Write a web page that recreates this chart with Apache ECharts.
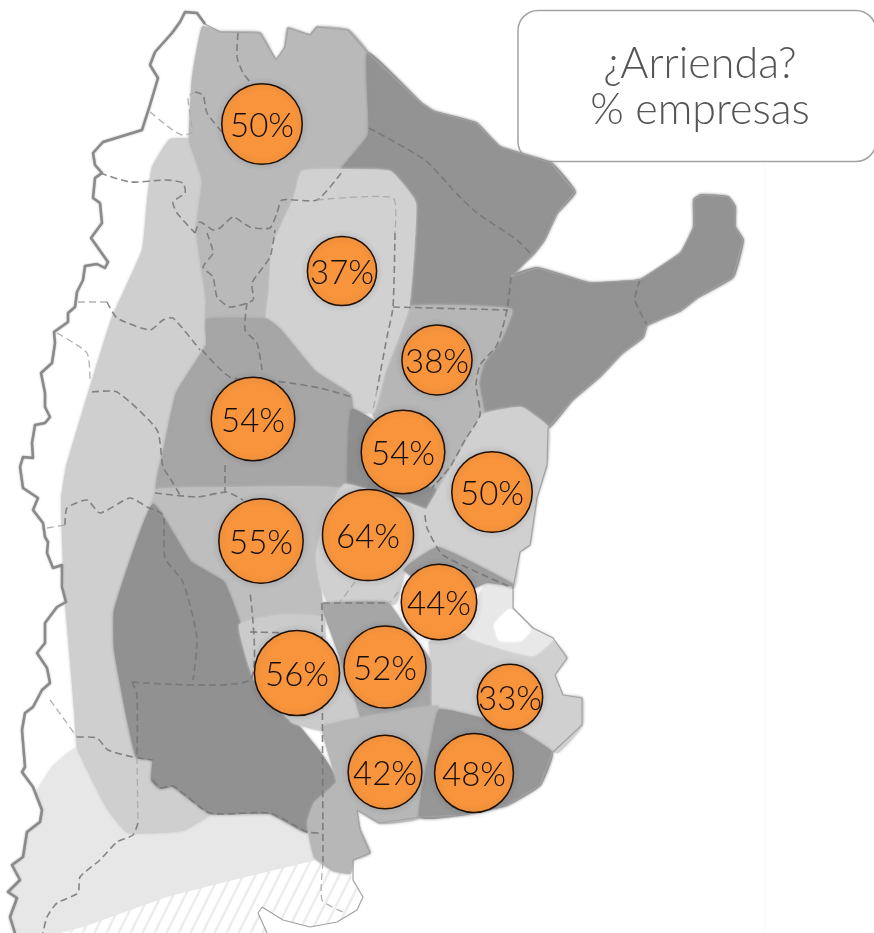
<!DOCTYPE html>
<html>
<head>
<meta charset="utf-8">
<style>html,body{margin:0;padding:0;background:#fff}#c{width:874px;height:933px}</style>
<script src="https://cdn.jsdelivr.net/npm/echarts@6/dist/echarts.min.js"></script>
</head>
<body>
<div id="c"></div>
<script>
// ---- Bubble data: region share of firms that lease, placed in map units
const regionValues = [50, 37, 38, 54, 54, 50, 64, 55, 44, 56, 52, 33, 42, 48];
const bubbleMapX   = [262, 342, 437, 253, 403, 492, 368, 261, 439, 297, 385, 510, 385, 474];
const bubbleMapY   = [124, 271, 360, 419, 452, 492, 535, 541, 602, 673, 667, 697, 772, 773];
const titleLines = ['¿Arrienda?', '% empresas'];

// ---- Map geography in map units
const westBorder = [[205,24],[197,13],[185,12],[180,22],[172,33],[155,52],[150,65],[158,78],[150,105],[142,130],[103,142],[93,153],[95,165],[102,173],[95,178],[93,198],[100,203],[102,223],[91,238],[108,262],[105,268],[97,264],[85,266],[83,280],[77,292],[75,307],[68,313],[68,322],[54,332],[55,343],[52,363],[41,373],[45,393],[45,407],[50,417],[45,423],[35,425],[32,443],[33,458],[23,457],[20,467],[23,488],[38,498],[33,510],[43,523],[45,537],[48,542],[47,553],[53,568],[62,565],[62,587],[66,602],[57,607],[45,623],[45,643],[37,653],[47,668],[50,683],[42,690],[33,707],[25,713],[22,730],[25,767],[22,772],[33,787],[42,810],[40,822],[27,832],[23,857],[12,865],[20,880],[8,892],[17,898],[10,917],[15,933]];
const southBand = [[37,793],[53,767],[78,748],[107,807],[128,832],[183,830],[210,813],[270,813],[307,832],[315,857],[317,860],[233,880],[167,897],[83,927],[60,933],[15,933],[10,917],[17,898],[8,892],[20,880],[12,865],[23,857],[27,832],[40,822],[42,810]];
const hatched = [[60,933],[83,927],[167,897],[233,880],[317,860],[350,873],[353,880],[363,897],[357,910],[337,922],[310,927],[283,920],[262,907],[258,913],[267,933]];
const andes = [[170,140],[190,140],[203,180],[197,230],[207,300],[207,345],[177,393],[163,465],[150,510],[115,610],[115,660],[130,730],[137,757],[153,760],[152,780],[160,788],[173,786],[210,813],[183,830],[128,832],[107,807],[78,748],[75,710],[70,650],[65,590],[62,500],[67,467],[97,367],[113,317],[143,250],[148,200],[153,167]];
const noa = [[203,27],[220,32],[260,33],[276,60],[285,47],[288,28],[310,35],[317,27],[348,30],[368,53],[369,135],[342,172],[302,173],[295,197],[273,247],[267,320],[207,320],[207,300],[197,230],[203,180],[190,140],[193,77]];
const nea = [[368,53],[421,103],[435,112],[476,123],[500,147],[551,163],[575,192],[557,213],[544,240],[534,253],[511,277],[511,310],[408,308],[415,207],[391,177],[367,170],[340,172],[369,135]];
const mesopotamia = [[511,277],[537,268],[589,283],[640,280],[681,253],[694,227],[694,200],[701,195],[728,197],[735,207],[735,227],[743,240],[733,277],[698,297],[681,310],[647,325],[643,337],[622,353],[599,377],[572,400],[548,428],[521,408],[483,415],[478,383],[483,363],[500,340],[511,310]];
const santaFe = [[408,308],[511,310],[500,340],[483,363],[478,383],[483,415],[462,450],[435,495],[425,510],[395,480],[378,425],[373,412],[385,370]];
const chaco = [[302,172],[342,170],[390,172],[415,203],[408,308],[385,370],[373,412],[352,410],[350,395],[315,372],[280,330],[267,320],[270,290],[273,247],[295,197]];
const cuyoNorth = [[207,320],[267,320],[280,330],[315,372],[350,395],[352,410],[350,490],[340,498],[233,488],[157,490],[165,447],[177,393],[207,345]];
const cordobaPatch = [[352,410],[378,425],[395,480],[435,490],[425,510],[400,497],[350,490]];
const pampaWest = [[157,490],[233,488],[345,490],[317,555],[322,617],[283,615],[240,625],[233,605],[223,582],[190,562],[153,505]];
const pampaCenter = [[345,485],[425,510],[427,528],[440,550],[405,570],[395,603],[330,605],[320,580],[317,555],[325,520]];
const patagoniaNorth = [[153,505],[190,562],[223,582],[233,605],[240,625],[250,650],[255,680],[293,720],[320,753],[337,782],[315,803],[307,832],[270,813],[210,813],[173,786],[160,788],[152,780],[153,760],[137,757],[128,720],[115,650],[115,610]];
const pampaSouth = [[240,625],[283,615],[323,618],[325,640],[345,670],[363,718],[323,730],[293,722],[255,680]];
const centerSouth = [[323,605],[387,603],[403,625],[433,665],[433,707],[363,720],[357,702],[330,628]];
const buenosAiresEast = [[430,642],[467,635],[533,655],[550,638],[567,658],[555,675],[563,695],[582,698],[582,725],[557,752],[513,728],[440,710],[433,705],[433,665]];
const riverPlate = [[467,635],[487,582],[513,590],[513,608],[533,628],[553,638],[533,655]];
const whitePatch = [[495,625],[510,610],[530,630],[520,640],[500,640]];
const entreRios = [[548,428],[521,408],[483,415],[453,467],[425,515],[438,545],[513,588],[520,552],[530,545],[537,498],[547,465]];
const riverBand = [[438,548],[513,585],[487,582],[467,590],[440,590],[405,570]];
const southEast = [[440,710],[513,728],[552,753],[540,785],[507,805],[460,815],[420,817],[432,742]];
const southCoast = [[438,707],[363,718],[323,728],[337,782],[315,803],[308,823],[315,857],[333,870],[350,873],[353,860],[370,853],[360,830],[357,810],[380,823],[420,817],[432,742]];

const regionLayers = [southBand, hatched, andes, noa, nea, mesopotamia, santaFe, chaco, cuyoNorth, cordobaPatch, pampaWest, pampaCenter, patagoniaNorth, pampaSouth, centerSouth, buenosAiresEast, riverPlate, whitePatch, entreRios, riverBand, southCoast, southEast];
const regionColors = ['#e7e7e7', 'hatch', '#cfcfcf', '#b9b9b9', '#939393', '#939393', '#b6b6b6', '#d1d1d1', '#a6a6a6', '#8f8f8f', '#bebebe', '#d0d0d0', '#919191', '#cbcbcb', '#a6a6a6', '#d0d0d0', '#e8e8e8', '#ffffff', '#d0d0d0', '#9c9c9c', '#b7b7b7', '#979797'];

const dashedBorders = [
 [[238,33],[237,57],[243,73],[251,83]],
 [[195,92],[203,95],[207,113],[222,132]],
 [[100,173],[130,182],[167,180],[183,183],[185,193],[173,202],[177,213],[195,233]],
 [[195,233],[200,222],[213,230],[220,228],[233,217],[250,227],[270,228],[277,213],[282,200],[317,200],[342,172]],
 [[395,233],[393,307],[387,337],[377,390]],
 [[393,307],[508,310]],
 [[511,277],[507,310],[497,345],[480,365],[476,385],[480,415],[465,440],[450,467],[432,488]],
 [[369,128],[425,160],[456,193],[477,213],[517,240],[532,255]],
 [[640,280],[635,300],[647,325]],
 [[207,233],[213,253],[203,267],[213,277],[217,297],[230,307],[253,300],[252,283],[270,257],[275,230]],
 [[247,303],[245,330],[257,343],[262,370]],
 [[202,350],[230,377],[283,382],[320,388],[352,397]],
 [[107,302],[117,318],[150,330],[163,320],[173,318],[200,350]],
 [[92,392],[117,392],[157,430],[163,467],[170,478],[180,495]],
 [[225,465],[225,492]],
 [[155,493],[197,497],[227,492],[243,500]],
 [[65,525],[67,508],[87,500],[100,513],[130,498],[147,507],[163,515],[165,558],[183,582],[197,638],[193,680]],
 [[132,682],[250,680],[250,592]],
 [[250,632],[293,633]],
 [[132,682],[137,695],[137,757]],
 [[138,823],[133,835],[117,842],[100,860],[80,877],[78,893],[57,903],[47,917],[43,933]],
 [[77,737],[97,738],[108,750],[133,757],[153,760]],
 [[322,603],[323,862]],
 [[323,603],[387,603]],
 [[153,780],[160,788],[173,786],[210,813],[270,813],[307,832],[322,833]],
 [[425,515],[427,528],[443,555],[513,588]]
];
const faintBorders = [
 [[150,112],[170,128],[182,135],[192,132],[188,97],[195,92]],
 [[317,200],[393,198],[395,233]],
 [[377,390],[373,410]],
 [[78,302],[107,302]],
 [[57,333],[87,353],[90,380]],
 [[47,528],[65,525]],
 [[50,700],[77,737]],
 [[137,757],[138,823]],
 [[323,862],[322,900],[343,912]],
 [[355,582],[340,602]],
 [[398,592],[390,602]]
];
const eastCoast = [[205,24],[220,32],[260,33],[276,60],[285,47],[288,28],[310,35],[317,27],[348,30],[368,53],[421,103],[435,112],[476,123],[500,147],[551,163],[575,192],[557,213],[544,240],[534,253],[511,277],[537,268],[589,283],[640,280],[681,253],[694,227],[694,200],[701,195],[728,197],[735,207],[735,227],[743,240],[733,277],[698,297],[681,310],[647,325],[643,337],[622,353],[599,377],[572,400],[548,428],[547,465],[537,498],[530,545],[520,552],[513,588],[513,608],[533,628],[553,638],[567,658],[555,675],[563,695],[582,698],[582,725],[552,753],[540,785],[507,805],[460,815],[420,817],[380,823],[357,810],[360,830],[370,853],[353,860],[353,880],[363,897],[357,910],[337,922],[310,927],[283,920],[262,907],[258,913],[267,933]];
const sheetEdge = [[765,162],[765,933]];

function hatchPattern() {
  const cv = document.createElement('canvas');
  cv.width = 12; cv.height = 24;
  const g = cv.getContext('2d');
  g.fillStyle = '#ffffff'; g.fillRect(0, 0, 12, 24);
  g.strokeStyle = '#ececec'; g.lineWidth = 2.5;
  g.beginPath(); g.moveTo(-3, 24); g.lineTo(9, 0);
  g.moveTo(9, 24); g.lineTo(21, 0); g.stroke();
  return cv;
}
const pattern = { image: hatchPattern(), repeat: 'repeat' };

const bubbleData = regionValues.map((v, i) => [bubbleMapX[i], bubbleMapY[i], v]);
const chart = echarts.init(document.getElementById('c'), null, { renderer: 'canvas' });
const ff = 'Lato, Roboto, sans-serif';

const borderSeries = (rows, color, w, op) => ({
  type: 'custom', coordinateSystem: 'cartesian2d', silent: true, z: 2,
  data: rows.map((_, i) => i),
  renderItem(params, api) {
    return { type: 'polyline', shape: { smooth: 0.2, points: rows[api.value(0)].map(p => api.coord(p)) },
      style: { fill: null, stroke: color, lineWidth: w, lineDash: [7, 4], opacity: op } };
  }
});

chart.setOption({
  animation: false,
  backgroundColor: '#fff',
  grid: { left: 0, right: 0, top: 0, bottom: 0 },
  xAxis: { type: 'value', min: 0, max: 874, show: false },
  yAxis: { type: 'value', min: 0, max: 933, inverse: true, show: false },
  graphic: [{
    type: 'group', z: 50, children: [{
      type: 'rect', shape: { x: 518, y: 10.5, width: 358, height: 151, r: 20 },
      style: { fill: '#fff', stroke: '#a3a3a3', lineWidth: 1.5 }
    }, {
      type: 'text', x: 700, y: 87,
      style: { text: titleLines.join('\n'), fill: '#555555', font: '300 43px ' + ff, lineHeight: 46, align: 'center', verticalAlign: 'middle' }
    }]
  }],
  series: [{
    type: 'line', silent: true, z: 0, symbol: 'none', data: sheetEdge,
    lineStyle: { color: '#f6f6f6', width: 1 }
  }, {
    type: 'custom', coordinateSystem: 'cartesian2d', silent: true, z: 1, clip: false,
    data: regionLayers.map((_, i) => i),
    renderItem(params, api) {
      const i = api.value(0);
      const c = regionColors[i];
      const hatch = c === 'hatch';
      return { type: 'polygon', shape: { smooth: hatch ? 0 : 0.12, points: regionLayers[i].map(p => api.coord(p)) },
        style: hatch ? { fill: pattern } : { fill: c, stroke: c, lineWidth: 2, lineJoin: 'round', shadowBlur: 3, shadowColor: c } };
    }
  },
  borderSeries(dashedBorders, '#747474', 1.6, 0.85),
  borderSeries(faintBorders, '#a9a9a9', 1.3, 0.9),
  {
    type: 'line', silent: true, z: 3, symbol: 'none', data: westBorder,
    lineStyle: { color: '#8a8a8a', width: 2.5, join: 'round', shadowBlur: 2, shadowColor: '#aaa' }
  }, {
    type: 'line', silent: true, z: 3, symbol: 'none', data: eastCoast,
    lineStyle: { color: '#a2a2a2', width: 1.2 }
  }, {
    type: 'scatter', z: 10, data: bubbleData, silent: true,
    symbolSize: d => 11.375 * Math.sqrt(d[2]),
    itemStyle: { color: '#f7943c', borderColor: '#1f0f00', borderWidth: 1.5, opacity: 1, shadowBlur: 6, shadowColor: 'rgba(60,70,90,0.2)' },
    label: { show: true, position: 'inside', offset: [0, 2], formatter: p => p.value[2] + '%', color: '#140e08', fontFamily: ff, fontWeight: 300, fontSize: 33 }
  }]
});
</script>
</body>
</html>
